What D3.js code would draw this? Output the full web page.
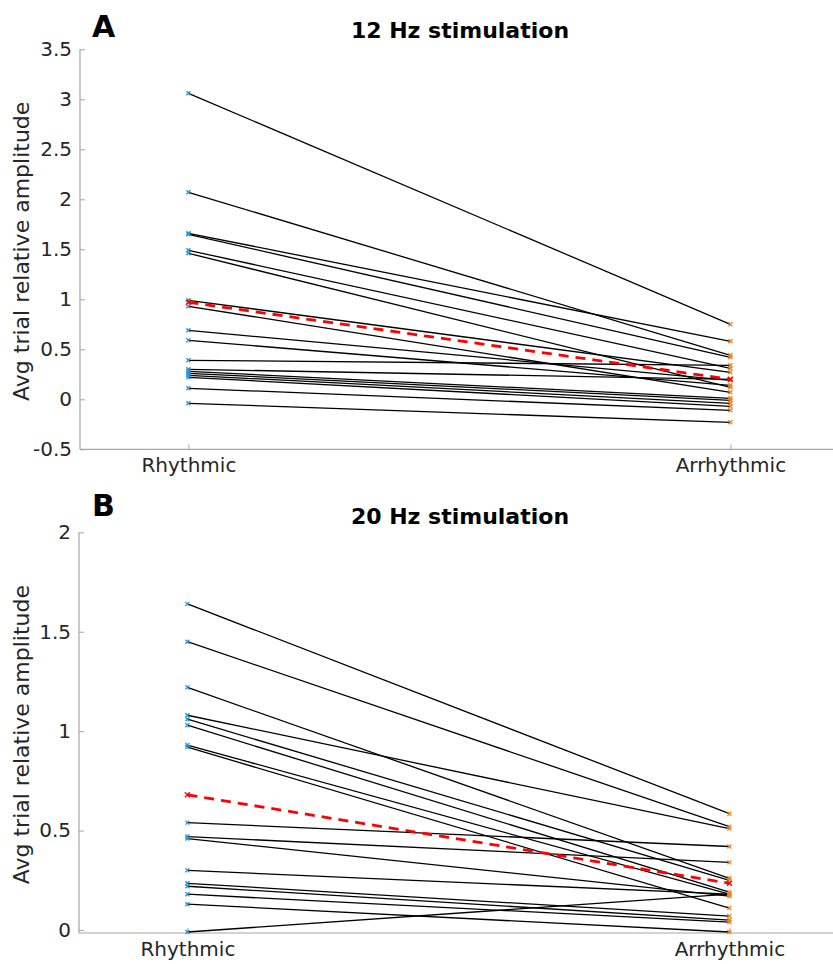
<!DOCTYPE html>
<html>
<head>
<meta charset="utf-8">
<script src="https://cdn.jsdelivr.net/npm/d3@7"></script>
<style>
  html, body { margin: 0; padding: 0; background: #fff; }
  svg { display: block; font-family: "DejaVu Sans", sans-serif; }
</style>
</head>
<body>
<svg id="chart" width="833" height="964"></svg>
<script>
// ---- data ----
const categories = ["Rhythmic", "Arrhythmic"];

const rhythmicA   = [3.06, 2.07, 1.66, 1.65, 1.49, 1.46, 0.99, 0.93, 0.69, 0.59, 0.39, 0.30, 0.28, 0.26, 0.24, 0.22, 0.11, -0.04];
const arrhythmicA = [0.75, 0.44, 0.58, 0.42, 0.31, 0.12, 0.27, 0.07, 0.19, 0.14, 0.34, 0.20, 0.01, -0.01, -0.04, -0.07, -0.11, -0.23];
const meanA = [0.97, 0.20];

const rhythmicB   = [1.64, 1.45, 1.22, 1.08, 1.06, 1.03, 0.93, 0.92, 0.54, 0.47, 0.46, 0.30, 0.235, 0.22, 0.18, 0.13, -0.01];
const arrhythmicB = [0.585, 0.52, 0.26, 0.51, 0.25, 0.19, 0.18, 0.11, 0.42, 0.34, 0.17, 0.18, 0.07, 0.05, 0.04, -0.01, 0.18];
const meanB = [0.68, 0.235];

const yTicksA = [-0.5, 0, 0.5, 1, 1.5, 2, 2.5, 3, 3.5];
const yTicksB = [0, 0.5, 1, 1.5, 2];

const svg = d3.select("#chart");

function xMark(g, x, y, s, color) {
  g.append("path")
    .attr("d", `M${x - s},${y - s}L${x + s},${y + s}M${x - s},${y + s}L${x + s},${y - s}`)
    .attr("stroke", color).attr("stroke-width", 1.3).attr("fill", "none");
}

function panel(opts) {
  const { left, top, bottom, yDomain, yTicks, rh, ar, mean, title, letter, titleY, letterY } = opts;
  const g = svg.append("g");
  const x = d3.scaleLinear().domain([0.8, 2.2]).range([left, left + 542 * 1.4]);
  const y = d3.scaleLinear().domain(yDomain).range([bottom, top]);

  // axes
  const ya = d3.axisLeft(y).tickValues(yTicks).tickSize(-5).tickPadding(8)
    .tickFormat(d => String(d));
  const yg = g.append("g").attr("transform", `translate(${left},0)`).call(ya);
  const xa = d3.axisBottom(x).tickValues([1, 2]).tickSize(-5)
    .tickFormat((d, i) => categories[i]);
  const xg = g.append("g").attr("transform", `translate(0,${bottom})`).call(xa);
  [yg, xg].forEach(ax => {
    ax.select(".domain").attr("stroke", "#a6a6a6").attr("stroke-width", 1.2);
    ax.selectAll(".tick line").attr("stroke", "#a6a6a6");
    ax.selectAll(".tick text").attr("fill", "#262626").attr("font-size", 20)
      .attr("font-family", "DejaVu Sans, sans-serif");
  });
  yg.select(".domain").attr("d", `M0,${bottom}V${top}`);
  xg.select(".domain").attr("d", `M${left},0H${833}`);
  xg.selectAll(".tick text").attr("y", 9).attr("dy", "0.71em");

  // y label
  g.append("text")
    .attr("transform", `translate(29,${(top + bottom) / 2 + 2}) rotate(-90)`)
    .attr("text-anchor", "middle")
    .attr("font-size", 22).attr("fill", "#262626")
    .text("Avg trial relative amplitude");

  // title
  g.append("text").attr("x", 460).attr("y", titleY).attr("text-anchor", "middle")
    .attr("font-size", 22).attr("font-weight", "bold").attr("fill", "#000").text(title);
  g.append("text").attr("x", 92).attr("y", letterY)
    .attr("font-size", 30).attr("font-weight", "bold").attr("fill", "#000").text(letter);

  // lines
  const lines = g.append("g");
  rh.forEach((v, i) => {
    lines.append("line")
      .attr("x1", x(1)).attr("y1", y(v)).attr("x2", x(2)).attr("y2", y(ar[i]))
      .attr("stroke", "#000").attr("stroke-width", 1.3);
  });
  rh.forEach((v, i) => {
    xMark(lines, x(1), y(v), 2, "#2b93cf");
    xMark(lines, x(2), y(ar[i]), 2, "#f0831f");
  });
  // mean
  g.append("line")
    .attr("x1", x(1)).attr("y1", y(mean[0])).attr("x2", x(2)).attr("y2", y(mean[1]))
    .attr("stroke", "#ff0000").attr("stroke-width", 2.8).attr("stroke-dasharray", "10,7");
  xMark(g, x(1), y(mean[0]), 2.5, "#ff0000");
  xMark(g, x(2), y(mean[1]), 2.5, "#ff0000");
}

panel({ left: 80, top: 49.3, bottom: 449.3, yDomain: [-0.5, 3.5], yTicks: yTicksA,
  rh: rhythmicA, ar: arrhythmicA, mean: meanA, title: "12 Hz stimulation", letter: "A",
  titleY: 38, letterY: 37 });
panel({ left: 79, top: 532.3, bottom: 933, yDomain: [-0.015, 2], yTicks: yTicksB,
  rh: rhythmicB, ar: arrhythmicB, mean: meanB, title: "20 Hz stimulation", letter: "B",
  titleY: 524, letterY: 516 });
</script>
</body>
</html>
